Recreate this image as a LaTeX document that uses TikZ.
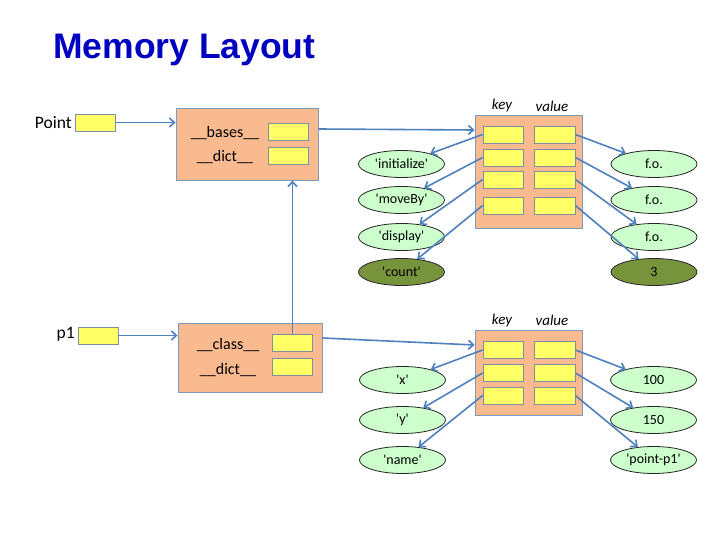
\documentclass[tikz,border=0pt]{standalone}
\usepackage{fontspec}
\setmainfont{Carlito}[Ligatures=TeXOff]
\newfontfamily\titlefont{Liberation Sans}
\usetikzlibrary{arrows.meta,shapes.geometric}
\definecolor{peach}{HTML}{F8BA8E}
\definecolor{boxborder}{HTML}{7D9AC0}
\definecolor{slotyellow}{HTML}{FFFF66}
\definecolor{slotborder}{HTML}{7F8FA6}
\definecolor{arrowblue}{HTML}{4F81BD}
\definecolor{lightgreen}{HTML}{CCFFCC}
\definecolor{darkgreen}{HTML}{77933C}
\definecolor{titleblue}{HTML}{0000C0}
\begin{document}
\begin{tikzpicture}[x=1pt,y=-1pt,
  slot/.style={draw=slotborder, fill=slotyellow, minimum width=40pt, minimum height=17pt, inner sep=0pt, line width=0.8pt},
  clsbox/.style={draw=boxborder, fill=peach, line width=0.9pt, inner sep=0pt},
  lbl/.style={inner sep=0pt, font=\fontsize{17.5}{20}\selectfont},
  inlbl/.style={inner sep=0pt, font=\fontsize{16}{19}\selectfont},
  hdr/.style={inner sep=0pt, font=\fontsize{15}{18}\selectfont\itshape},
  ell/.style={ellipse, draw=black!85, fill=lightgreen, line width=0.8pt, minimum width=86pt, minimum height=27pt, inner sep=0pt, font=\fontsize{14}{16}\selectfont},
  darkell/.style={ell, fill=darkgreen},
  arr/.style={draw=arrowblue, line width=1.6pt, -{Straight Barb[length=5pt,width=9pt]}}
]
\useasboundingbox (0,0) rectangle (720,540);
\fill[white] (0,0) rectangle (720,540);

% title
\node[anchor=base west, inner sep=0pt, text=titleblue, font=\titlefont\bfseries\fontsize{35.5}{40}\selectfont] (title) at (53,59) {Memory Layout};

% Point
\node[lbl, anchor=east] (pointlbl) at (72,123) {Point};
\node[slot] (pslot) at (95,122.5) {};
\node[clsbox, minimum width=142pt, minimum height=72pt] (clsP) at (247,144) {};
\node[slot] (basesslot) at (288.5,131.5) {};
\node[slot] (pdictslot) at (288.5,155.5) {};
\node[inlbl] (baseslbl) at (225,133) {\_\_bases\_\_};
\node[inlbl] (pdictlbl) at (225,157) {\_\_dict\_\_};

% p1
\node[lbl, anchor=east] (p1lbl) at (75,334) {p1};
\node[slot] (p1slot) at (98,335.5) {};
\node[clsbox, minimum width=144pt, minimum height=69pt] (clsC) at (250,357.5) {};
\node[slot] (classslot) at (292.5,343) {};
\node[slot] (cdictslot) at (292.5,367) {};
\node[inlbl] (classlbl) at (228,345) {\_\_class\_\_};
\node[inlbl] (cdictlbl) at (228,370) {\_\_dict\_\_};

% Point dict
\node[clsbox, minimum width=107pt, minimum height=113pt] (dictP) at (528.5,171.5) {};
\node[hdr] (keyP) at (502,106) {key};
\node[hdr] (valP) at (552,106) {value};
\node[slot] (kP1) at (503,134.5) {};
\node[slot] (kP2) at (503,157.5) {};
\node[slot] (kP3) at (503,179.5) {};
\node[slot] (kP4) at (503,205.5) {};
\node[slot, minimum width=41pt] (vP1) at (554.5,134.5) {};
\node[slot, minimum width=41pt] (vP2) at (554.5,157.5) {};
\node[slot, minimum width=41pt] (vP3) at (554.5,179.5) {};
\node[slot, minimum width=41pt] (vP4) at (554.5,205.5) {};

\node[ell] (eInit) at (401.5,164) {'initialize'};
\node[ell] (eMove) at (401.5,200) {'moveBy'};
\node[ell] (eDisp) at (401.5,237) {'display'};
\node[darkell] (eCount) at (401.5,272) {'count'};
\node[ell] (fo1) at (654,164) {f.o.};
\node[ell] (fo2) at (654,200) {f.o.};
\node[ell] (fo3) at (654,237) {f.o.};
\node[darkell] (three) at (654,272) {3};

% p1 dict
\node[clsbox, minimum width=107pt, minimum height=85pt] (dictC) at (528.5,372.5) {};
\node[hdr] (keyC) at (502,320) {key};
\node[hdr] (valC) at (552,320) {value};
\node[slot] (kC1) at (503,350) {};
\node[slot] (kC2) at (503,373) {};
\node[slot] (kC3) at (503,395.5) {};
\node[slot, minimum width=41pt] (vC1) at (554.5,350) {};
\node[slot, minimum width=41pt] (vC2) at (554.5,373) {};
\node[slot, minimum width=41pt] (vC3) at (554.5,395.5) {};

\node[ell] (ex) at (402.5,380) {'x'};
\node[ell] (ey) at (402.5,420) {'y'};
\node[ell] (ename) at (402.5,460) {'name'};
\node[ell] (v100) at (653.5,380) {100};
\node[ell] (v150) at (653.5,420) {150};
\node[ell] (vpp) at (653.5,460) {'point-p1'};

% connectors
\draw[arr] (pslot.east) -- (clsP.west |- pslot.east);
\draw[arr] (p1slot.east) -- (clsC.west |- p1slot.east);
\draw[arr] ([yshift=15pt]clsP.east) -- ([yshift=41.5pt]dictP.west);
\draw[arr] ([yshift=19.5pt]clsC.east) -- ([yshift=27.5pt]dictC.west);
\draw[arr] (classslot.north) -- (classslot.north |- clsP.south);

\foreach \k/\e in {kP1/eInit,kP2/eMove,kP3/eDisp,kP4/eCount,kC1/ex,kC2/ey,kC3/ename}
  \draw[arr] (\k.west) -- (\e);
\foreach \v/\e in {vP1/fo1,vP2/fo2,vP3/fo3,vP4/three,vC1/v100,vC2/v150,vC3/vpp}
  \draw[arr] (\v.east) -- (\e);
\end{tikzpicture}
\end{document}
